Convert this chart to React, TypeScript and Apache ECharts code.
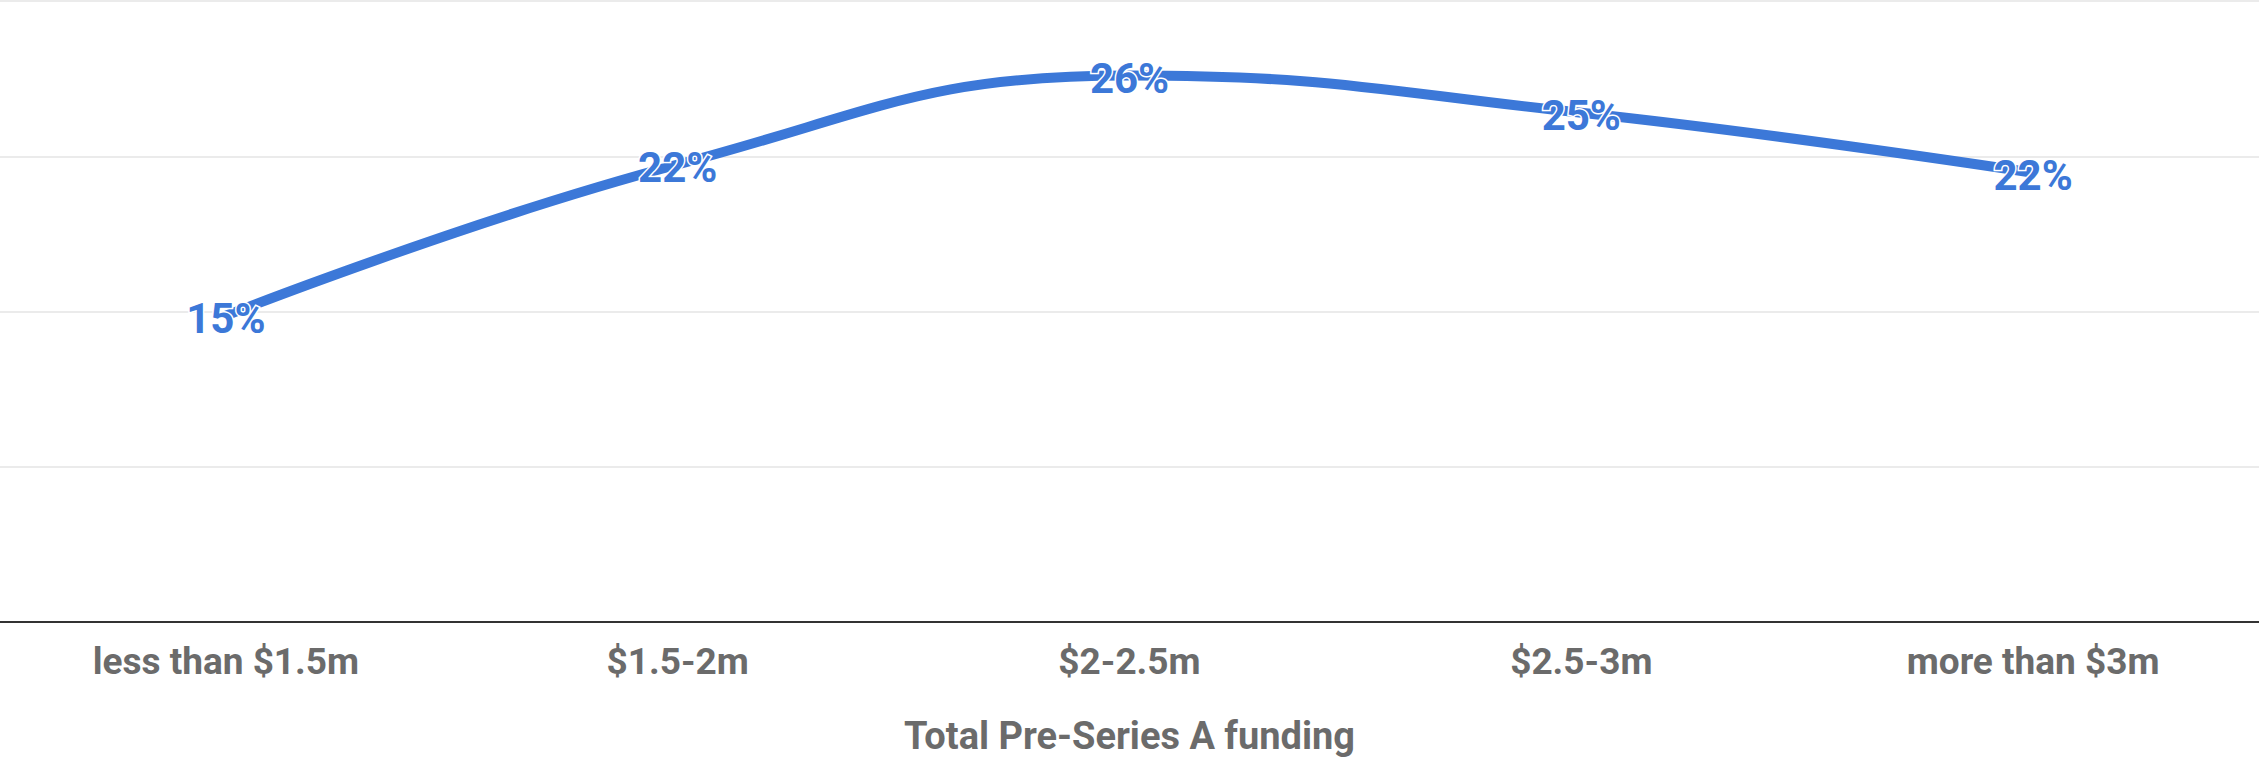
import React, { useEffect, useRef } from "react";
import * as echarts from "echarts";

const categories = ["less than $1.5m", "$1.5-2m", "$2-2.5m", "$2.5-3m", "more than $3m"];
const shares = [0.148, 0.221, 0.264, 0.246, 0.217];
const axisTitle = "Total Pre-Series A funding";

export default function App() {
  const ref = useRef<HTMLDivElement>(null);
  useEffect(() => {
    document.body.style.margin = "0";
    const chart = echarts.init(ref.current!, null, { renderer: "svg" });
    chart.setOption({
      animation: false,
      backgroundColor: "#ffffff",
      textStyle: { fontFamily: "Roboto" },
      grid: { left: 0, right: 0, top: 1, bottom: 135, containLabel: false },
      xAxis: {
        type: "category",
        data: categories,
        boundaryGap: true,
        axisLine: { show: true, lineStyle: { color: "#333333", width: 2 } },
        axisTick: { show: false },
        axisLabel: {
          fontSize: 37,
          fontWeight: "bold",
          fontFamily: "Roboto",
          color: "#6b6b6b",
          margin: 21,
        },
        name: axisTitle,
        nameLocation: "middle",
        nameGap: 95,
        nameTextStyle: {
          fontSize: 38,
          fontWeight: "bold",
          fontFamily: "Roboto",
          color: "#6b6b6b",
        },
      },
      yAxis: {
        type: "value",
        min: 0,
        max: 0.3,
        interval: 0.075,
        axisLabel: { show: false },
        axisLine: { show: false },
        axisTick: { show: false },
        splitLine: { lineStyle: { color: "#ebebeb", width: 2 } },
      },
      series: [
        {
          type: "line",
          data: shares,
          smooth: 0.45,
          symbol: "circle",
          symbolSize: 0.1,
          itemStyle: { color: "#3c78d8" },
          lineStyle: { color: "#3c78d8", width: 10 },
          label: {
            show: true,
            position: "inside",
            offset: [0, 3],
            formatter: (p: any) => Math.round(p.value * 100) + "%",
            fontSize: 42,
            fontWeight: "bold",
            fontFamily: "Roboto",
            color: "#3c78d8",
            textBorderColor: "#ffffff",
            textBorderWidth: 3,
          },
        },
      ],
    });
    return () => chart.dispose();
  }, []);
  return <div ref={ref} style={{ width: 2259, height: 760 }} />;
}
